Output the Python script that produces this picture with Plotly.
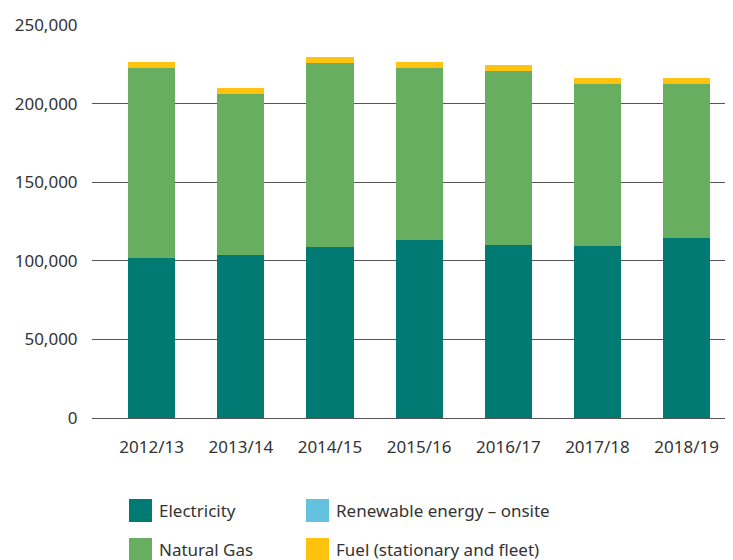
import plotly.graph_objects as go

years = ["2012/13", "2013/14", "2014/15", "2015/16", "2016/17", "2017/18", "2018/19"]
electricity = [101700, 103600, 108700, 113200, 110000, 109400, 114500]
natural_gas = [121200, 102800, 117400, 109700, 111000, 103300, 98200]
renewable = [0, 0, 0, 0, 0, 0, 0]
fuel = [3800, 3800, 3800, 3800, 3800, 3800, 3800]

y_ticks = [0, 50000, 100000, 150000, 200000, 250000]
y_labels = ["0", "50,000", "100,000", "150,000", "200,000", "250,000"]

series = [
    ("Electricity", electricity, "#007A73"),
    ("Natural Gas", natural_gas, "#67AE60"),
    ("Renewable energy \u2013 onsite", renewable, "#63C3DF"),
    ("Fuel (stationary and fleet)", fuel, "#FFC20E"),
]

FONT = "Noto Sans"
TXT = "#333333"
FS = 17

fig = go.Figure()
for name, vals, col in series:
    fig.add_trace(go.Bar(x=years, y=vals, name=name, marker=dict(color=col, line=dict(width=0)),
                         showlegend=False))

# page body has an 8px offset; compensate so window pixels match
OFF = 8
W, H = 733, 560
L, R, T = 92 - OFF, OFF, 25 - OFF
ph = 393
B = H - T - ph
pw = W - L - R

fig.update_layout(
    width=W, height=H,
    margin=dict(l=L, r=R, t=T, b=B, autoexpand=False),
    barmode="stack",
    bargap=0.47,
    plot_bgcolor="white", paper_bgcolor="white",
    font=dict(family=FONT, size=FS, color=TXT),
)
fig.update_xaxes(range=[-0.669, 6.52], showgrid=False, showline=False, zeroline=False,
                 ticks="outside", ticklen=14, tickcolor="rgba(0,0,0,0)",
                 tickfont=dict(family=FONT, size=FS, color=TXT))
fig.update_yaxes(range=[0, 250000], tickvals=y_ticks, ticktext=y_labels,
                 showgrid=True, gridcolor="#555555", gridwidth=1,
                 zeroline=True, zerolinecolor="#555555", zerolinewidth=1,
                 showline=False, ticks="outside", ticklen=10, tickcolor="rgba(0,0,0,0)",
                 tickfont=dict(family=FONT, size=FS, color=TXT))

# custom legend (window pixel positions)
def px_x(x):
    return (x - OFF - L) / pw

def px_y(y):
    return (H - B - (y - OFF)) / ph

cols_x = [129, 306]
rows_y = [499, 538]
sw = 23
for i, (name, vals, col) in enumerate(series):
    r, c = [(0, 0), (1, 0), (0, 1), (1, 1)][i]
    x0, y0 = cols_x[c], rows_y[r]
    fig.add_shape(type="rect", xref="paper", yref="paper",
                  x0=px_x(x0), x1=px_x(x0 + sw), y0=px_y(y0), y1=px_y(y0 + sw),
                  fillcolor=col, line=dict(width=0))
    fig.add_annotation(xref="paper", yref="paper", x=px_x(x0 + sw + 5), y=px_y(y0 + sw / 2),
                       text=name, showarrow=False, xanchor="left", yanchor="middle",
                       font=dict(family=FONT, size=FS, color=TXT))

fig.write_html("out.html")
